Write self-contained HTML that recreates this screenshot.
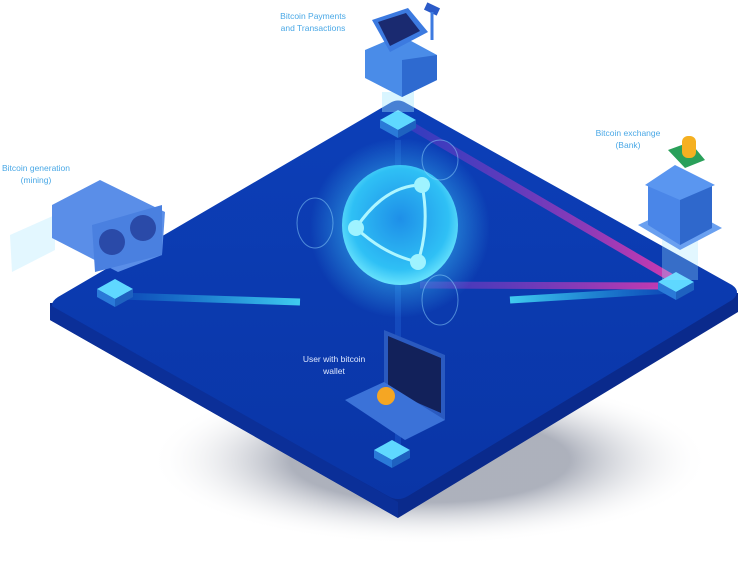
<!DOCTYPE html>
<html><head><meta charset="utf-8"><style>
html,body{margin:0;padding:0;background:#fff;width:754px;height:581px;overflow:hidden}
svg{display:block}
text{font-family:"Liberation Sans",sans-serif;font-size:8.5px}
</style></head><body>
<svg width="754" height="581" viewBox="0 0 754 581" xmlns="http://www.w3.org/2000/svg">
<defs>
<linearGradient id="top" x1="0" y1="0" x2="0" y2="1">
<stop offset="0" stop-color="#0c3fb8"/><stop offset="1" stop-color="#0a35a6"/></linearGradient>
<radialGradient id="glob" cx="0.5" cy="0.45" r="0.6">
<stop offset="0" stop-color="#1e8fe8"/><stop offset="0.7" stop-color="#2fc0f5"/><stop offset="1" stop-color="#7ff0ff"/></radialGradient>
<radialGradient id="glow" cx="0.5" cy="0.5" r="0.5">
<stop offset="0.5" stop-color="#3fd0ff" stop-opacity="0.5"/><stop offset="1" stop-color="#3fd0ff" stop-opacity="0"/></radialGradient>
<radialGradient id="shadow" cx="0.5" cy="0.5" r="0.5">
<stop offset="0.5" stop-color="#8a90a0" stop-opacity="0.7"/><stop offset="1" stop-color="#fff" stop-opacity="0"/></radialGradient>
<linearGradient id="cy" gradientUnits="userSpaceOnUse" x1="118" y1="0" x2="300" y2="0"><stop offset="0" stop-color="#2ad8ff" stop-opacity="0.1"/><stop offset="1" stop-color="#4ef0ff"/></linearGradient>
<linearGradient id="cy2" gradientUnits="userSpaceOnUse" x1="672" y1="0" x2="510" y2="0"><stop offset="0" stop-color="#2ad8ff" stop-opacity="0.1"/><stop offset="1" stop-color="#4ef0ff"/></linearGradient>
<linearGradient id="mg" gradientUnits="userSpaceOnUse" x1="410" y1="0" x2="675" y2="0"><stop offset="0" stop-color="#8a3ad0" stop-opacity="0.4"/><stop offset="1" stop-color="#ff3ab0"/></linearGradient>
<g id="n">
<path d="M0,-10 L18,0 L0,10 L-18,0Z" fill="#5fd8ff"/>
<path d="M-18,0 L0,10 L0,18 L-18,8Z" fill="#2a7ad8"/><path d="M18,0 L0,10 L0,18 L18,8Z" fill="#1e62c0"/>
</g>
</defs>
<!-- shadow -->
<ellipse cx="430" cy="460" rx="280" ry="85" fill="url(#shadow)"/>
<!-- platform side -->
<path d="M50,303 L50,320 L398,518 L738,312 L738,293 Z" fill="#0a2a8c"/>
<path d="M390,103 Q398,98 406,103 L732,285 Q742,292 732,300 L408,496 Q398,502 388,496 L58,313 Q46,305 58,297 Z" fill="url(#top)"/>
<path d="M50,305 L398,502 L398,518 L50,320Z" fill="#0b2f98"/>
<!-- lines -->
<line x1="118" y1="296" x2="300" y2="302" stroke="url(#cy)" stroke-width="7" opacity="0.8"/>
<line x1="510" y1="300" x2="672" y2="290" stroke="url(#cy2)" stroke-width="7" opacity="0.8"/>
<line x1="410" y1="125" x2="675" y2="280" stroke="url(#mg)" stroke-width="8" opacity="0.8"/>
<line x1="420" y1="285" x2="670" y2="286" stroke="url(#mg)" stroke-width="7" opacity="0.8"/>
<line x1="398" y1="140" x2="398" y2="450" stroke="#1a55c8" stroke-width="6" opacity="0.6"/>
<!-- globe -->
<circle cx="400" cy="228" r="90" fill="url(#glow)"/>
<ellipse cx="400" cy="225" rx="58" ry="60" fill="url(#glob)"/>
<path d="M356,228 Q385,185 422,185 M356,228 Q385,255 418,262 M422,185 Q430,225 418,262" stroke="#aef6ff" stroke-width="3" fill="none"/>
<circle cx="356" cy="228" r="8" fill="#9ff3ff"/><circle cx="422" cy="185" r="8" fill="#9ff3ff"/><circle cx="418" cy="262" r="8" fill="#9ff3ff"/>
<ellipse cx="315" cy="223" rx="18" ry="25" fill="none" stroke="#8fd8ff" opacity="0.5"/>
<ellipse cx="440" cy="160" rx="18" ry="20" fill="none" stroke="#8fd8ff" opacity="0.5"/>
<ellipse cx="440" cy="300" rx="18" ry="25" fill="none" stroke="#8fd8ff" opacity="0.5"/>
<use href="#n" x="398" y="120"/><use href="#n" x="115" y="289"/><use href="#n" x="676" y="282"/><use href="#n" x="392" y="450"/>
<!-- register -->
<rect x="382" y="92" width="32" height="20" fill="#9fe6ff" opacity="0.4"/>
<path d="M365,50 L400,35 L437,55 L437,80 L402,97 L365,78Z" fill="#4a8ce8"/>
<path d="M402,60 L437,55 L437,80 L402,97Z" fill="#2e6ad0"/>
<path d="M372,20 L408,8 L428,32 L390,52Z" fill="#3c7ae0"/>
<path d="M378,22 L406,13 L420,31 L390,46Z" fill="#1a2a70"/>
<rect x="425" y="5" width="14" height="8" fill="#2a5ac8" transform="rotate(25 432 9)"/>
<line x1="432" y1="12" x2="432" y2="40" stroke="#3c7ae0" stroke-width="3"/>
<!-- miners -->
<path d="M10,235 L55,215 L55,250 L12,272Z" fill="#8fe0ff" opacity="0.25"/>
<path d="M52,205 L100,180 L165,212 L162,255 L118,272 L52,238Z" fill="#5a8ee8"/>
<path d="M92,225 L162,205 L162,255 L95,272Z" fill="#4a80e0"/>
<circle cx="112" cy="242" r="13" fill="#2a4aa8"/><circle cx="143" cy="228" r="13" fill="#2a4aa8"/>
<!-- bank -->
<rect x="662" y="240" width="36" height="40" fill="#9fe6ff" opacity="0.3"/>
<path d="M638,225 L680,205 L722,228 L680,250Z" fill="#6aa0f0"/>
<path d="M648,185 L680,168 L712,186 L712,228 L680,245 L648,225Z" fill="#4a86e8"/>
<path d="M680,195 L712,186 L712,228 L680,245Z" fill="#2f68cc"/>
<path d="M645,185 L675,165 L715,185 L680,200Z" fill="#5a96f0"/>
<path d="M668,150 L690,142 L705,160 L685,168Z" fill="#2aa05a"/>
<rect x="682" y="136" width="14" height="22" rx="6" fill="#f5b021"/>
<!-- laptop -->
<path d="M384,330 L445,355 L445,420 L384,393Z" fill="#2a5ac0"/>
<path d="M388,336 L441,358 L441,413 L388,390Z" fill="#12215a"/>
<path d="M345,400 L384,382 L445,420 L405,440Z" fill="#3b72d8"/>
<circle cx="386" cy="396" r="9" fill="#f5a623"/>
<!-- labels -->
<g fill="#4aa8e6" text-anchor="middle">
<text x="313" y="19">Bitcoin Payments</text><text x="313" y="31">and Transactions</text>
<text x="36" y="171">Bitcoin generation</text><text x="36" y="183">(mining)</text>
<text x="628" y="136">Bitcoin exchange</text><text x="628" y="148">(Bank)</text>
</g>
<g fill="#dfe8ff" text-anchor="middle">
<text x="334" y="362">User with bitcoin</text><text x="334" y="374">wallet</text>
</g>
</svg>
</body></html>
